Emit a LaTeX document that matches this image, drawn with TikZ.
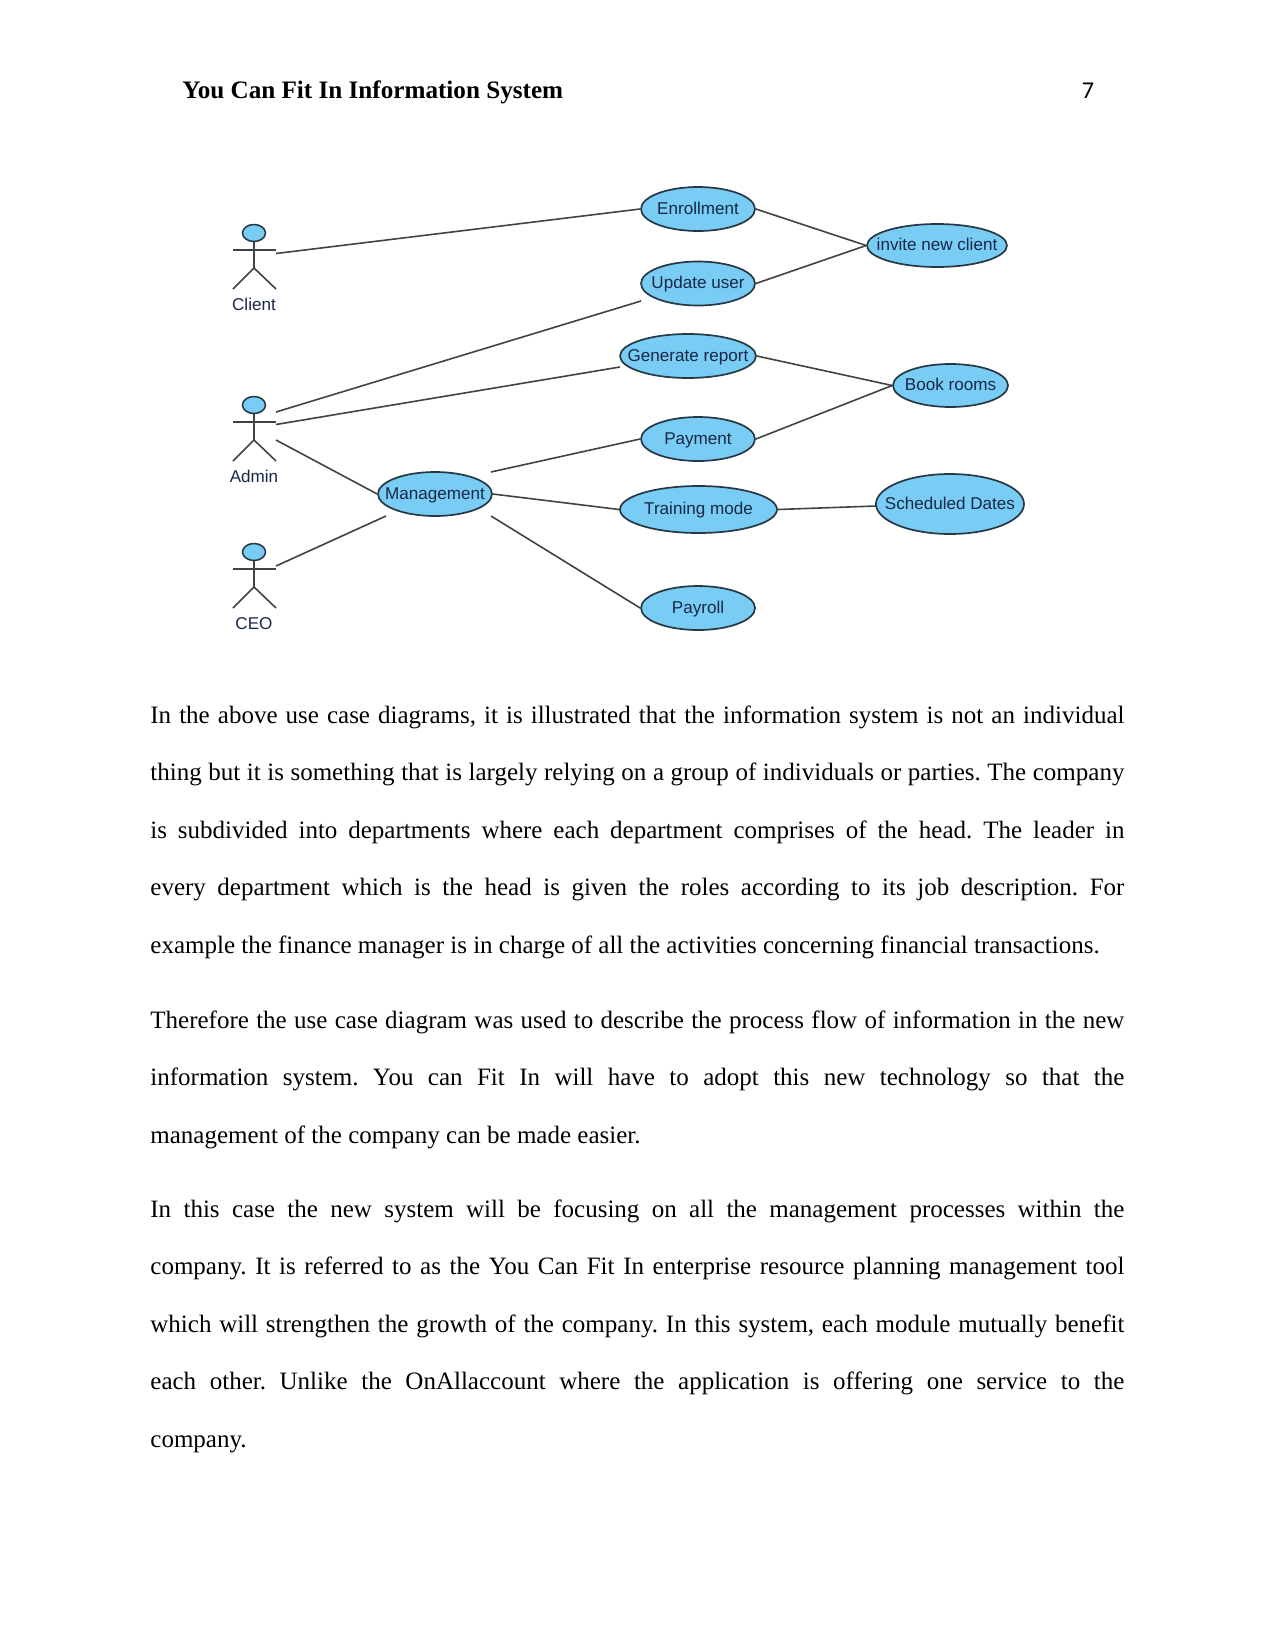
\documentclass[tikz,border=0pt]{standalone}
\usepackage{fontspec}
\setmainfont{Liberation Serif}
\newfontfamily\umlfont{Liberation Sans}
\newfontfamily\numfont{Carlito}
\usetikzlibrary{shapes.geometric}
\definecolor{casefill}{RGB}{121,204,243}
\definecolor{caseline}{RGB}{38,56,68}
\definecolor{wireline}{RGB}{66,66,66}
\definecolor{umltext}{RGB}{24,40,72}
% paragraph settings: single word spaces after full stops, no hyphenation
\frenchspacing
\tolerance=10000
\hyphenpenalty=10000
\hfuzz=3pt
% one drawing unit is one pixel of a 150 dpi letter page
\newcommand{\px}[1]{#1*0.48bp}
\newcommand{\caselabel}[1]{\makebox[0pt]{\raisebox{-.6ex}[0pt][0pt]{#1}}}
% a stick figure: head node plus limbs, with its name below
\newcommand{\actor}[3]{%
  \node[actorhead] (#1) at (254,#3+1) {};
  \draw[wire] (233,#3+18) -- (276,#3+18);
  \draw[wire] (#1.south) -- (254,#3+36);
  \draw[wire] (233,#3+57) -- (254,#3+36) -- (276,#3+57);
  \node[umllabel] (#1name) at (254,#3+72.5) {#2};
}
\tikzset{
  wire/.style={draw=wireline,line width=\px{1.6}},
  usecase/.style={ellipse,draw=caseline,fill=casefill,line width=\px{1.7},inner sep=0pt,
    font=\umlfont\fontsize{8.2bp}{10bp}\selectfont,text=umltext},
  actorhead/.style={ellipse,draw=caseline,fill=casefill,line width=\px{1.5},inner sep=0pt,
    minimum width=\px{23},minimum height=\px{17}},
  umllabel/.style={font=\umlfont\fontsize{8.2bp}{10bp}\selectfont,text=umltext,inner sep=0pt},
  bodytext/.style={anchor=north west,inner sep=0pt,text width=\px{974},align=justify,
    font=\fontsize{12bp}{27.55bp}\selectfont},
}
\begin{document}
\begin{tikzpicture}[x=0.48bp,y=-0.48bp]
\useasboundingbox (0,0) rectangle (1275,1650);

% running head
\node[anchor=base west,inner sep=0pt,font=\fontsize{12.07bp}{14bp}\selectfont\bfseries] (head) at (182,98) {You Can Fit In Information System};
\node[anchor=base,inner sep=0pt,font=\numfont\fontsize{11.6bp}{14bp}\selectfont] (pageno) at (1088,98) {7};

% use cases
\node[usecase,minimum width=\px{114},minimum height=\px{44}] (enroll) at (698,209) {\caselabel{Enrollment}};
\node[usecase,minimum width=\px{114},minimum height=\px{44}] (update) at (698,283.5) {\caselabel{Update user}};
\node[usecase,minimum width=\px{136},minimum height=\px{44}] (report) at (688,356) {\caselabel{Generate report}};
\node[usecase,minimum width=\px{114},minimum height=\px{44}] (payment) at (698,439) {\caselabel{Payment}};
\node[usecase,minimum width=\px{157},minimum height=\px{47}] (training) at (698.5,509.5) {\caselabel{Training mode}};
\node[usecase,minimum width=\px{114},minimum height=\px{44}] (payroll) at (698,608) {\caselabel{Payroll}};
\node[usecase,minimum width=\px{114},minimum height=\px{44}] (manage) at (435,494) {\caselabel{Management}};
\node[usecase,minimum width=\px{140},minimum height=\px{43}] (invite) at (937,245.5) {\caselabel{invite new client}};
\node[usecase,minimum width=\px{115},minimum height=\px{43}] (rooms) at (950.5,385.5) {\caselabel{Book rooms}};
\node[usecase,minimum width=\px{148},minimum height=\px{60}] (dates) at (950,504) {\caselabel{Scheduled Dates}};

% actors
\actor{client}{Client}{232}
\actor{admin}{Admin}{404}
\actor{ceo}{CEO}{551}

% connector ends that stop short of a shape or meet it off its axis
\coordinate (clientport) at (276,253.5);
\coordinate (adminupper) at (276,412);
\coordinate (adminmid) at (276,424.5);
\coordinate (adminlow) at (276,440);
\coordinate (ceoport) at (276,566);
\coordinate (updatefoot) at (641,301);
\coordinate (reportfoot) at (620,367);
\coordinate (managefoot) at (386,516);
\coordinate (managetop) at (491,472);
\coordinate (managelow) at (491,516);
\coordinate (datesport) at (876,506);

% connectors
\draw[wire] (clientport) -- (enroll.west);
\draw[wire] (adminupper) -- (updatefoot);
\draw[wire] (adminmid) -- (reportfoot);
\draw[wire] (adminlow) -- (manage.west);
\draw[wire] (ceoport) -- (managefoot);
\draw[wire] (managetop) -- (payment.west);
\draw[wire] (manage.east) -- (training.west);
\draw[wire] (managelow) -- (payroll.west);
\draw[wire] (enroll.east) -- (invite.west);
\draw[wire] (update.east) -- (invite.west);
\draw[wire] (report.east) -- (rooms.west);
\draw[wire] (payment.east) -- (rooms.west);
\draw[wire] (training.east) -- (datesport);

% body paragraphs
\node[bodytext] (para1) at (150,705.5) {In the above use case diagrams, it is illustrated that the information system is not an individual\linebreak
thing but it is something that is largely relying on a group of individuals or parties. The company\linebreak
is subdivided into departments where each department comprises of the head. The leader in\linebreak
every department which is the head is given the roles according to its job description. For\linebreak
example the finance manager is in charge of all the activities concerning financial transactions.};
\node[bodytext] (para2) at (150,1010.5) {Therefore the use case diagram was used to describe the process flow of information in the new\linebreak
information system. You can Fit In will have to adopt this new technology so that the\linebreak
management of the company can be made easier.};
\node[bodytext] (para3) at (150,1199.5) {In this case the new system will be focusing on all the management processes within the\linebreak
company. It is referred to as the You Can Fit In enterprise resource planning management tool\linebreak
which will strengthen the growth of the company. In this system, each module mutually benefit\linebreak
each other. Unlike the OnAllaccount where the application is offering one service to the\linebreak
company.};
\end{tikzpicture}
\end{document}
